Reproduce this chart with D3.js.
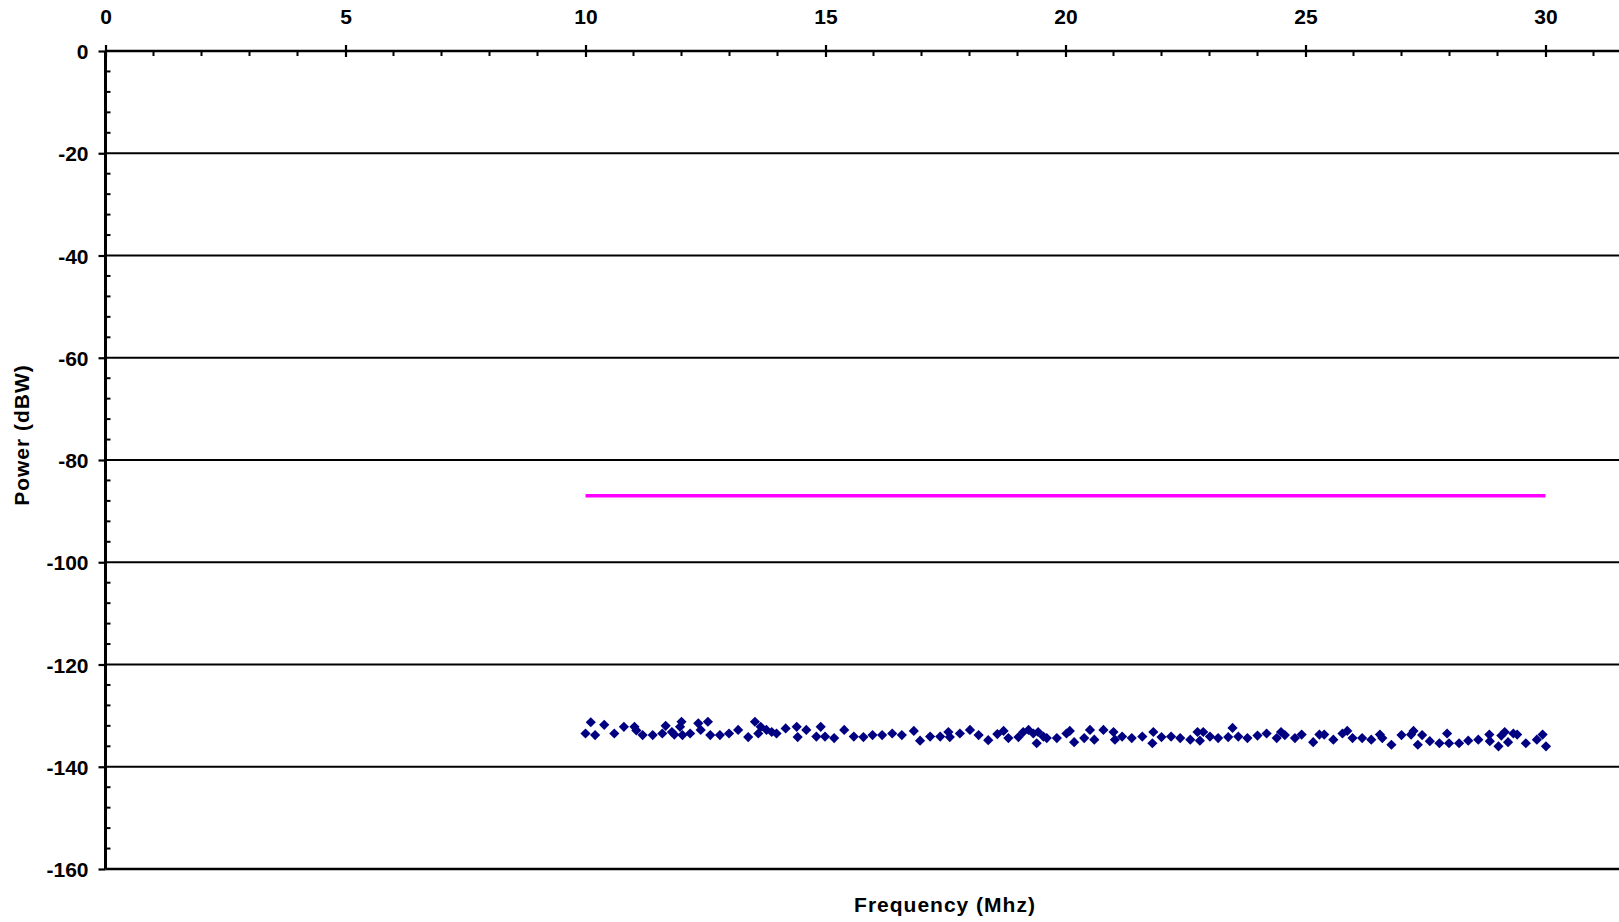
<!DOCTYPE html>
<html>
<head>
<meta charset="utf-8">
<script src="https://cdn.jsdelivr.net/npm/d3@7"></script>
<style>
  html, body { margin: 0; padding: 0; background: #fff; }
  svg { display: block; }
  text { font-family: "Liberation Sans", Arial, sans-serif; font-weight: bold; fill: #000; }
</style>
</head>
<body>
<svg id="chart" width="1619" height="922"></svg>
<script>
// ---- Data ----
const xTickLabels = [0, 5, 10, 15, 20, 25, 30];
const yTickLabels = [0, -20, -40, -60, -80, -100, -120, -140, -160];
const limitFreq = [10, 30];
const limitPower = [-87, -87];
const measFreq = [
  10.0, 10.11, 10.2, 10.39, 10.6, 10.8, 11.02, 11.06, 11.19, 11.4,
  11.6, 11.67, 11.8, 11.85, 11.97, 12.0, 12.02, 12.18, 12.35, 12.4,
  12.55, 12.6, 12.8, 12.99, 13.18, 13.39, 13.53, 13.6, 13.65, 13.77,
  13.88, 13.98, 14.17, 14.4, 14.42, 14.6, 14.81, 14.9,
  14.99, 15.18, 15.39, 15.59, 15.79, 15.98, 16.18, 16.39, 16.59, 16.84,
  16.97, 17.18, 17.39, 17.56, 17.59, 17.8, 18.01, 18.19, 18.39, 18.58,
  18.71, 18.81, 19.02, 19.12, 19.23, 19.33, 19.4, 19.43, 19.54, 19.61,
  19.82, 20.02,
  20.09, 20.18, 20.39, 20.51, 20.6, 20.79, 21.0, 21.03, 21.18, 21.38,
  21.6, 21.81, 21.83, 22.0, 22.2, 22.39, 22.6, 22.75, 22.8, 22.87,
  23.01, 23.18, 23.39, 23.48, 23.6, 23.79, 24.0, 24.19, 24.4, 24.49,
  24.57, 24.78, 24.92, 25.16,
  25.29, 25.39, 25.58, 25.77, 25.87, 25.98, 26.18, 26.37, 26.55, 26.6,
  26.79, 27.0, 27.2, 27.25, 27.34, 27.43, 27.59, 27.79, 27.95, 27.99,
  28.2, 28.39, 28.6, 28.83, 28.84, 29.02, 29.08, 29.15, 29.22, 29.33,
  29.41, 29.59, 29.82, 29.94, 30.01
];
const measPower = [
  -133.5, -131.3, -133.8, -131.8, -133.5, -132.2, -132.2, -132.9, -133.8, -133.8,
  -133.5, -132.0, -133.2, -133.7, -132.2, -131.2, -133.8, -133.5, -131.5, -132.8,
  -131.2, -133.8, -133.8, -133.5, -132.8, -134.2, -131.2, -133.5, -132.2, -132.8,
  -133.2, -133.5, -132.5, -132.2, -134.2, -132.8, -134.1, -132.2,
  -134.1, -134.4, -132.8, -134.1, -134.2, -133.8, -133.8, -133.5, -133.8, -133.0,
  -134.9, -134.1, -134.1, -133.2, -134.2, -133.5, -132.8, -133.8, -134.8, -133.6,
  -133.0, -134.4, -134.2, -133.2, -132.8, -133.5, -135.4, -133.2, -134.1, -134.4,
  -134.4, -133.5,
  -133.0, -135.2, -134.4, -132.8, -134.7, -132.8, -133.2, -134.7, -134.1, -134.4,
  -134.1, -135.4, -133.2, -134.2, -134.1, -134.4, -134.7, -133.2, -134.9, -133.2,
  -134.1, -134.4, -134.2, -132.4, -134.1, -134.4, -133.9, -133.5, -134.4, -133.2,
  -133.8, -134.4, -133.7, -135.2,
  -133.7, -133.7, -134.7, -133.5, -133.0, -134.4, -134.4, -134.7, -133.7, -134.4,
  -135.7, -133.8, -133.7, -133.0, -135.7, -133.8, -135.0, -135.4, -133.5, -135.4,
  -135.4, -134.9, -134.7, -133.7, -135.0, -136.0, -133.9, -133.2, -135.2, -133.5,
  -133.7, -135.4, -134.7, -133.7, -136.0
];

// ---- Layout ----
const svg = d3.select("#chart");
const mLeft = 105.5, mTop = 51, mBottom = 869, mRight = 1619;
const x = d3.scaleLinear().domain([0, 31.6]).range([mLeft, mLeft + 48 * 31.6]);
const y = d3.scaleLinear().domain([-160, 0]).range([mBottom, mTop]);

// gridlines
svg.append("g").selectAll("line")
  .data(yTickLabels.filter(v => v !== 0))
  .join("line")
  .attr("x1", mLeft).attr("x2", mRight)
  .attr("y1", d => y(d)).attr("y2", d => y(d))
  .attr("stroke", "#000")
  .attr("stroke-width", d => d === -160 ? 2.6 : 1.8);

// limit line
svg.append("line")
  .attr("x1", x(limitFreq[0])).attr("x2", x(limitFreq[1]))
  .attr("y1", y(limitPower[0])).attr("y2", y(limitPower[1]))
  .attr("stroke", "#FF00FF").attr("stroke-width", 3.5);

// measured points (diamonds)
const pts = measFreq.map((f, i) => ({ f, p: measPower[i] }));
const sym = d3.symbol().type(d3.symbolSquare).size(52);
svg.append("g").selectAll("path")
  .data(pts)
  .join("path")
  .attr("d", sym)
  .attr("transform", d => `translate(${x(d.f)},${y(d.p)}) rotate(45)`)
  .attr("fill", "#000080");

// minor ticks x (inside, downward)
const xMinor = d3.range(0, 32).filter(v => v % 5 !== 0);
svg.append("g").selectAll("line").data(xMinor).join("line")
  .attr("x1", d => x(d)).attr("x2", d => x(d))
  .attr("y1", mTop).attr("y2", mTop + 5)
  .attr("stroke", "#000").attr("stroke-width", 2);

// minor ticks y (inside, right)
const yMinor = d3.range(-160, 0, 4).filter(v => v % 20 !== 0);
svg.append("g").selectAll("line").data(yMinor).join("line")
  .attr("x1", mLeft).attr("x2", mLeft + 5)
  .attr("y1", d => y(d)).attr("y2", d => y(d))
  .attr("stroke", "#000").attr("stroke-width", 2);

// x axis (top)
const xAxis = svg.append("g")
  .attr("transform", `translate(0,${mTop})`)
  .call(d3.axisTop(x).tickValues(xTickLabels).tickSize(6).tickPadding(21).tickFormat(d => String(d)));
xAxis.select(".domain").attr("d", `M${mLeft},0H${mRight}`).attr("stroke-width", 2.6);
xAxis.selectAll(".tick line").attr("y1", 6).attr("y2", -6).attr("stroke-width", 2.2);
xAxis.selectAll(".tick text")
  .style("font-size", "21px").style("font-family", "'Liberation Sans', Arial, sans-serif")
  .style("font-weight", "bold").attr("fill", "#000");

// y axis (left)
const yAxis = svg.append("g")
  .attr("transform", `translate(${mLeft},0)`)
  .call(d3.axisLeft(y).tickValues(yTickLabels).tickSize(7).tickPadding(10).tickFormat(d => String(d)));
yAxis.select(".domain").attr("d", `M0,${mTop}V${mBottom}`).attr("stroke-width", 3);
yAxis.selectAll(".tick line").attr("x1", 0).attr("x2", -7).attr("stroke-width", 2.2);
yAxis.selectAll(".tick text")
  .style("font-size", "21px").style("font-family", "'Liberation Sans', Arial, sans-serif")
  .style("font-weight", "bold").attr("fill", "#000")
  .attr("dy", "0.36em");

// axis titles
svg.append("text")
  .attr("x", 945).attr("y", 912)
  .attr("text-anchor", "middle")
  .style("font-size", "21px").style("letter-spacing", "1px")
  .text("Frequency (Mhz)");

svg.append("text")
  .attr("transform", "translate(29,435) rotate(-90)")
  .attr("text-anchor", "middle")
  .style("font-size", "21px").style("letter-spacing", "1px")
  .text("Power (dBW)");
</script>
</body>
</html>
